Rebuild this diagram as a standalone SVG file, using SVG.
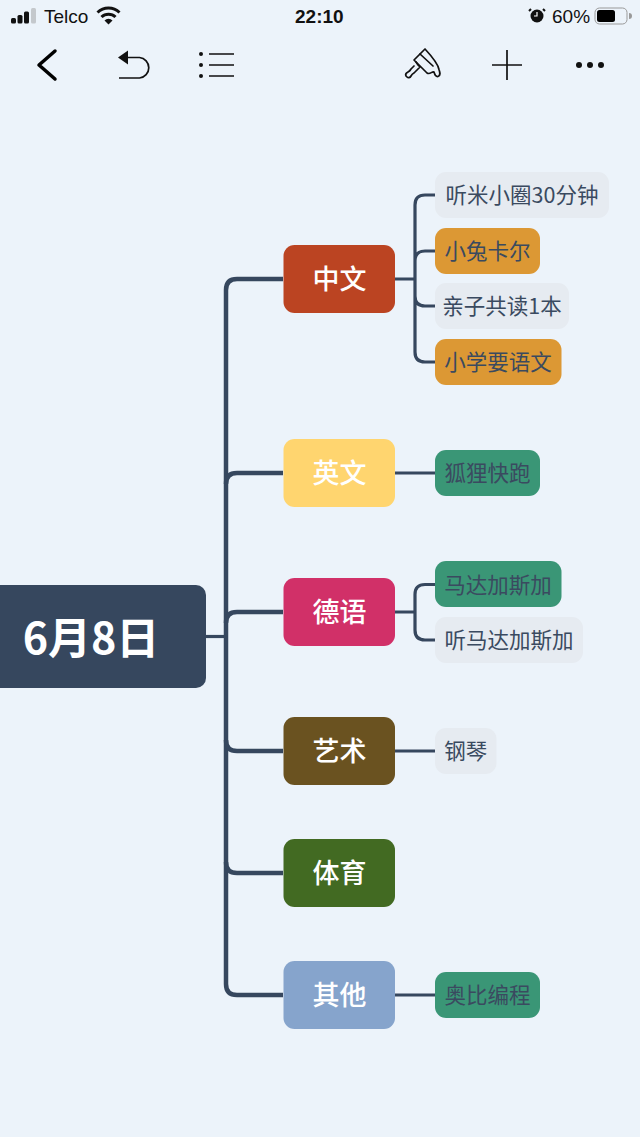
<svg xmlns="http://www.w3.org/2000/svg" width="640" height="1137" viewBox="0 0 640 1137">
<style>
text{font-family:"Noto Sans CJK SC","Noto Sans",sans-serif;text-anchor:middle;dominant-baseline:central}
.t1{font-size:27px;font-weight:500;fill:#fff}
.t2{font-size:21.500px;font-weight:400;fill:#3a4a60}
.c{fill:none;stroke:#36475e;stroke-width:4.500}
.c2{fill:none;stroke:#36475e;stroke-width:3.200}
.ic{fill:none;stroke:#111;stroke-width:1.700}
.st{font-family:"Liberation Sans",Arial,sans-serif;font-size:19px;fill:#111;text-anchor:start}
.g{fill:#e6ebf1}.o{fill:#dc9834}.e{fill:#3a9676}
</style>
<rect width="640" height="1137" fill="#ecf3fa"/>
<g id="status">
<rect x="11" y="18" width="5" height="5.500" rx="1.500" fill="#111"/><rect x="17.500" y="15" width="5" height="8.500" rx="1.500" fill="#111"/><rect x="24" y="11.500" width="5" height="12" rx="1.500" fill="#111"/><rect x="31" y="8" width="5" height="15.500" rx="1.500" fill="#c4c8cc"/>
<text class="st" x="44" y="16">Telco</text>
<path d="M97.500 12.500a16 16 0 0 1 22 0M101.500 17a10 10 0 0 1 14 0" fill="none" stroke="#111" stroke-width="3"/><path d="M104.500 20.500a5.500 5.500 0 0 1 8 0L108.500 24.500z" fill="#111"/>
<text class="st" x="295" y="16" style="font-weight:700">22:10</text>
<circle cx="537" cy="16" r="6.500" fill="#111"/><path d="M537 12v4h-3" stroke="#fff" stroke-width="1.200" fill="none"/><path d="M531 9l-2 2M543 9l2 2" stroke="#111" stroke-width="2"/>
<text class="st" x="552" y="16">60%</text>
<rect x="595" y="8" width="32" height="16" rx="4.500" fill="none" stroke="#999"/><rect x="597" y="10" width="18" height="12" rx="2.500" fill="#000"/><path d="M629 13a3 3 0 0 1 0 6z" fill="#999"/>
</g>
<g id="toolbar">
<path d="M55 51L39 65L55 79" fill="none" stroke="#000" stroke-width="3.500" stroke-linecap="round" stroke-linejoin="round"/>
<path d="M128 57.500H139.500a10.300 10.300 0 0 1 0 20.500H119" class="ic"/><path d="M118 57.500l10-7v14z" fill="#111"/>
<circle cx="201" cy="54" r="2" fill="#111"/><circle cx="201" cy="65" r="2" fill="#111"/><circle cx="201" cy="76" r="2" fill="#111"/>
<path d="M209 54h25M209 65h25M209 76h25" class="ic"/>
<g class="ic" stroke-linejoin="round" stroke-linecap="round"><path d="M425 49L414 60L427 73c3 2 5-2 7-1c1 3 1 5 4 4.500c3-1 2-4 1-7c-1-6-8-14-14-20.500z"/><path d="M420 54L433 66"/><path d="M416 62L418 65L420 67L414 73c-2 1-2 1-3 3c-1 2-3 2-4 1l-1-1c-1-2 0-3 2-4c2-1 2-1 3-3l3-3"/></g>
<path d="M507 50v30M492 65h30" class="ic"/>
<circle cx="579" cy="65" r="3" fill="#111"/><circle cx="590" cy="65" r="3" fill="#111"/><circle cx="601" cy="65" r="3" fill="#111"/>
</g>
<g id="connectors">
<path class="c2" d="M206 636.500H226"/>
<path class="c" d="M283 279H237Q226 279 226 290V984Q226 995 237 995H283"/>
<path class="c" d="M283 473H237Q226 473 226 484M283 612H237Q226 612 226 623M226 740Q226 751 237 751H283M226 862Q226 873 237 873H283"/>
<path class="c2" d="M395 279H415M395 473H435M395 612H415M395 751H435M395 995H435"/>
<path class="c2" d="M435 195H425Q415 195 415 205V352Q415 362 425 362H435M435 251H425Q415 251 415 261M415 296Q415 306 425 306H435"/>
<path class="c2" d="M435 584.500H425Q415 584.500 415 594.500V630Q415 640 425 640H435"/>
</g>
<g id="root"><path d="M-5 585H196a10 10 0 0 1 10 10V678a10 10 0 0 1-10 10H-5z" fill="#36475e"/><text x="91" y="635" style="font-size:43px;font-weight:700;fill:#fff">6月8日</text></g>
<g id="n-zhongwen"><rect x="283.500" y="245" width="111.500" height="68" rx="11" fill="#bb4422"/><text class="t1" x="339.500" y="277">中文</text></g>
<g id="n-yingwen"><rect x="283.500" y="439" width="111.500" height="68" rx="11" fill="#ffd56f"/><text class="t1" x="339.500" y="471.500">英文</text></g>
<g id="n-deyu"><rect x="283.500" y="578" width="111.500" height="68" rx="11" fill="#d13068"/><text class="t1" x="339.500" y="610.500">德语</text></g>
<g id="n-yishu"><rect x="283.500" y="717" width="111.500" height="68" rx="11" fill="#6a5220"/><text class="t1" x="339.500" y="749.500">艺术</text></g>
<g id="n-tiyu"><rect x="283.500" y="839" width="111.500" height="68" rx="11" fill="#426a22"/><text class="t1" x="339.500" y="871.500">体育</text></g>
<g id="n-qita"><rect x="283.500" y="961" width="111.500" height="68" rx="11" fill="#86a4cc"/><text class="t1" x="339.500" y="993.500">其他</text></g>
<g id="l1"><rect class="g" x="435" y="172" width="174" height="46" rx="11"/><text class="t2" x="522" y="193.500">听米小圈30分钟</text></g>
<g id="l2"><rect class="o" x="435" y="228" width="105" height="46" rx="11"/><text class="t2" x="487.500" y="249.500">小兔卡尔</text></g>
<g id="l3"><rect class="g" x="435" y="283" width="134" height="46" rx="11"/><text class="t2" x="502" y="304.500">亲子共读1本</text></g>
<g id="l4"><rect class="o" x="435" y="339" width="126.500" height="46" rx="11"/><text class="t2" x="498" y="360.500">小学要语文</text></g>
<g id="l5"><rect class="e" x="435" y="450" width="105" height="46" rx="11"/><text class="t2" x="487.500" y="471.500">狐狸快跑</text></g>
<g id="l6"><rect class="e" x="435" y="561" width="126.500" height="46" rx="11"/><text class="t2" x="498" y="583">马达加斯加</text></g>
<g id="l7"><rect class="g" x="435" y="617" width="148" height="46" rx="11"/><text class="t2" x="509" y="638.500">听马达加斯加</text></g>
<g id="l8"><rect class="g" x="435" y="728" width="61.500" height="46" rx="11"/><text class="t2" x="465.800" y="749.500">钢琴</text></g>
<g id="l9"><rect class="e" x="435" y="972" width="105" height="46" rx="11"/><text class="t2" x="487.500" y="993.500">奥比编程</text></g>
</svg>
